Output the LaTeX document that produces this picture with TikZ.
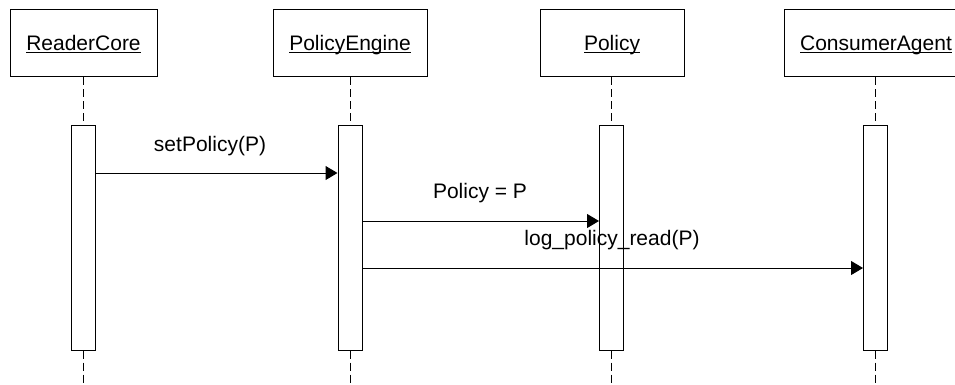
\documentclass[tikz,border=0pt]{standalone}
\usepackage{fontspec}
\setmainfont{Liberation Sans}
\usetikzlibrary{arrows.meta}
\newcommand\myul[1]{\setbox0\hbox{#1}\rlap{\rule[-2.6pt]{\wd0}{1pt}}\box0}
\begin{document}
\begin{tikzpicture}[x=1pt,y=-1pt,
  obj/.style={draw, line width=1pt, minimum height=67pt, inner sep=0pt,
    text height=17pt, text depth=3pt, font=\fontsize{21}{25}\selectfont},
  act/.style={draw, fill=white, line width=1pt, minimum width=24pt,
    minimum height=225pt, inner sep=0pt},
  life/.style={line width=1pt, dash pattern=on 8pt off 4pt},
  msg/.style={line width=1pt, -{Triangle[length=12pt,width=14pt]}},
  lbl/.style={anchor=base, inner sep=0pt, font=\fontsize{21}{25}\selectfont}]
\useasboundingbox (0,0) rectangle (955,384);
\clip (0,0) rectangle (955,384);

\node[obj, minimum width=147pt] (boxA) at (83.5,43) {\myul{ReaderCore}};
\node[obj, minimum width=154pt] (boxB) at (350,43) {\myul{PolicyEngine}};
\node[obj, minimum width=144pt] (boxC) at (612,43) {\myul{Policy}};
\node[obj, minimum width=184pt] (boxD) at (876,43) {\myul{ConsumerAgent}};

\node[act] (actA) at (83.5,237.5) {};
\node[act] (actB) at (350,237.5) {};
\node[act] (actC) at (611.5,237.5) {};
\node[act] (actD) at (875.5,237.5) {};

\coordinate (endA) at (83.5,384);
\coordinate (endB) at (350,384);
\coordinate (endC) at (611.5,384);
\coordinate (endD) at (875.5,384);

\draw[life] (boxA.south) -- (actA.north);
\draw[life] (boxB.south) -- (actB.north);
\draw[life] (boxC.south -| actC.north) -- (actC.north);
\draw[life] (boxD.south -| actD.north) -- (actD.north);
\draw[life] (actA.south) -- (endA);
\draw[life] (actB.south) -- (endB);
\draw[life] (actC.south) -- (endC);
\draw[life] (actD.south) -- (endD);

\coordinate (y1) at (0,173);
\coordinate (y2) at (0,221);
\coordinate (y3) at (0,268);

\draw[msg] (actA.east |- y1) -- (actB.west |- y1);
\draw[msg] (actB.east |- y2) -- (actC.west |- y2);
\draw[msg] (actB.east |- y3) -- (actD.west |- y3);

\node[lbl] (l1) at (210,151) {setPolicy(P)};
\node[lbl] (l2) at (480,198) {Policy = P};
\node[lbl] (l3) at (612,245) {log\_policy\_read(P)};
\end{tikzpicture}
\end{document}
